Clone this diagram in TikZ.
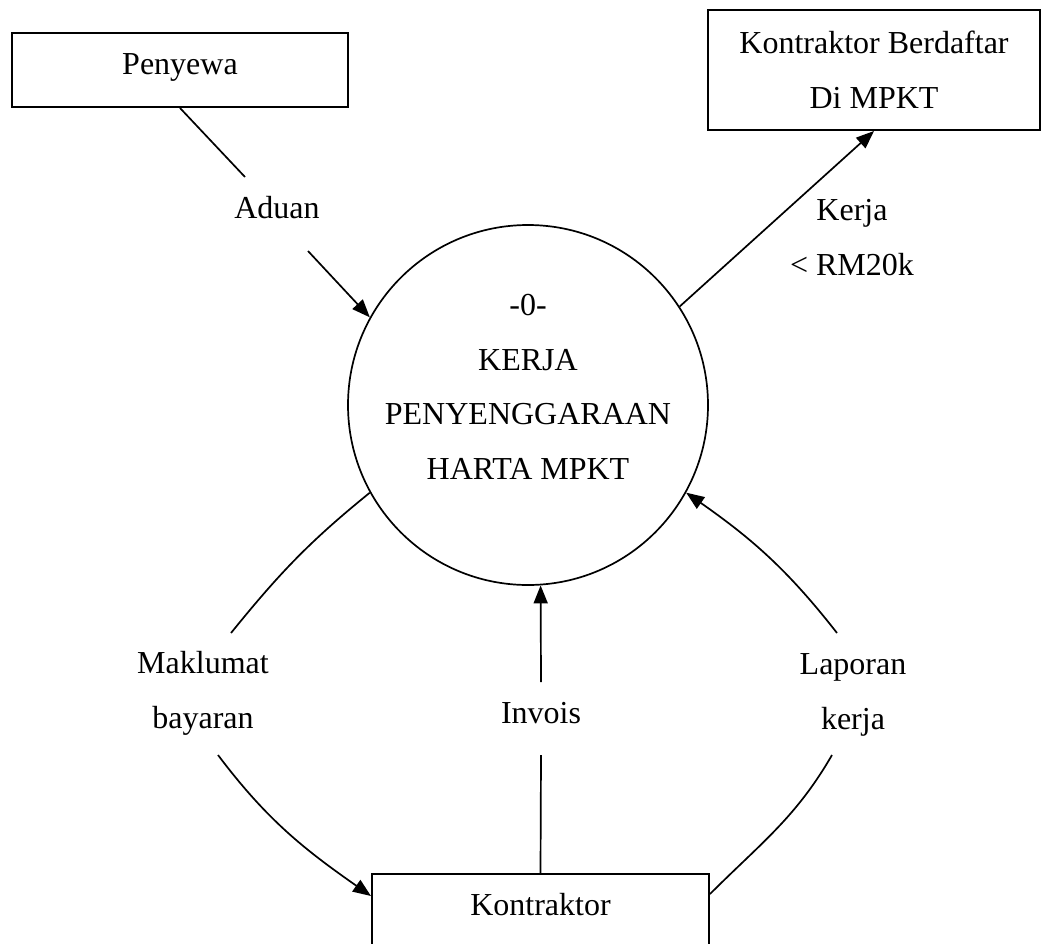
\documentclass[tikz,border=0pt]{standalone}
\usepackage{fontspec}
\setmainfont{Liberation Serif}
\usetikzlibrary{arrows.meta}
\begin{document}
\begin{tikzpicture}[x=1pt,y=1pt,
  every node/.style={font=\fontsize{32}{54.5}\selectfont},
  entity/.style={draw, line width=2pt, inner sep=0pt, align=center},
  flowlabel/.style={anchor=base, align=center, inner sep=0pt},
  flow/.style={line width=1.7pt},
  arr/.style={flow, -{Triangle[length=18pt,width=14pt]}}]
\useasboundingbox (0,0) rectangle (1041,-943);

% external entities
\node[entity, anchor=base, minimum width=336pt, text height=41pt, text depth=33pt] (peny) at (180,-74) {Penyewa};
\node[entity, minimum width=332pt, minimum height=120pt] (kb) at (874,-70) {Kontraktor Berdaftar\\Di MPKT};
\node[entity, anchor=base, minimum width=337pt, text height=41pt, text depth=70pt] (kon) at (540.5,-915) {Kontraktor};

% process
\node[circle, draw, line width=1.7pt, minimum size=360pt, inner sep=0pt] (proc) at (528,-405) {};
\node[flowlabel] (proctext) at (528,-479) {-0-\\KERJA\\PENYENGGARAAN\\HARTA MPKT};

% flow labels (base = baseline of last line)
\node[flowlabel] (aduan) at (277,-218) {Aduan};
\node[flowlabel] (kerja) at (852,-275) {Kerja\\< RM20k};
\node[flowlabel] (mak) at (203,-728) {Maklumat\\bayaran};
\node[flowlabel] (inv) at (541,-723) {Invois};
\node[flowlabel] (lap) at (853,-729) {Laporan\\kerja};

% gap coordinates
\coordinate (a1) at (245,-177);
\coordinate (a2) at (308,-251);
\coordinate (m1) at (231,-633);
\coordinate (m2) at (218,-755);
\coordinate (i1) at (541,-755);
\coordinate (i2) at (541,-682);
\coordinate (l1) at (832,-755);
\coordinate (l2) at (837,-633);

% flows
\draw[flow] (peny.south) -- (a1);
\draw[arr] (a2) -- (proc.151.4);
\draw[arr] (proc.33.7) -- (kb.south);
\draw[flow] (proc.209) to[out=219,in=51] (m1);
\draw[arr] (m2) to[out=-53,in=145] ([yshift=-23pt]kon.north west);
\draw[flow] (kon.north) -- (i1);
\draw[arr] (i2) -- (proc.274);
\draw[flow] ([yshift=-21pt]kon.north east) to[out=45,in=240] (l1);
\draw[arr] (l2) to[out=128,in=-35] (proc.331);
\end{tikzpicture}
\end{document}
